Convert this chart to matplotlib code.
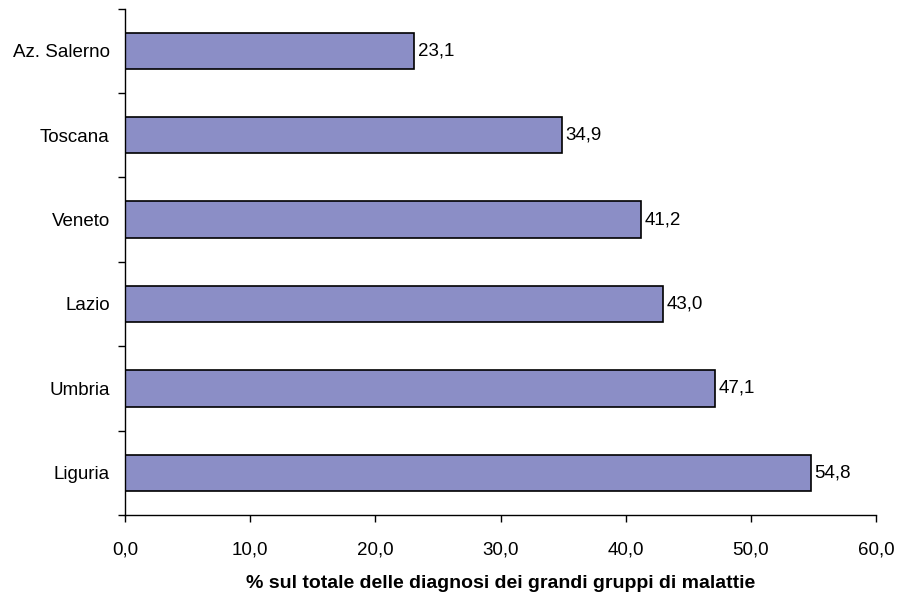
import matplotlib
matplotlib.use("Agg")
import matplotlib.pyplot as plt
import numpy as np

categories = ["Az. Salerno", "Toscana", "Veneto", "Lazio", "Umbria", "Liguria"]
values = [23.1, 34.9, 41.2, 43.0, 47.1, 54.8]
xticks = [0, 10, 20, 30, 40, 50, 60]
xlabel = "% sul totale delle diagnosi dei grandi gruppi di malattie"

plt.rcParams['font.family'] = ['Liberation Sans', 'DejaVu Sans']

fig = plt.figure(figsize=(9.02, 5.92), dpi=100)
ax = fig.add_axes([125/902, 1 - 515/592, (876-125)/902, (515-8.5)/592])

n = len(categories)
ypos = np.arange(n)[::-1]  # first category at top
ax.barh(ypos, values, height=0.43, color="#8B8EC6", edgecolor="black", linewidth=1.2)
for y, v in zip(ypos, values):
    ax.text(v + 0.3, y, f"{v:.1f}".replace(".", ","), va="center", ha="left", fontsize=13.5)

ax.set_xlim(0, 60)
ax.set_ylim(-0.5, n - 0.5)
ax.set_xticks(xticks)
ax.set_xticklabels([f"{t:.1f}".replace(".", ",") for t in xticks], fontsize=13.5)
ax.set_yticks(ypos)
ax.set_yticklabels(categories, fontsize=13.5)
ax.set_yticks(np.arange(-0.5, n, 1.0), minor=True)
ax.tick_params(axis='y', which='major', length=0, pad=11)
ax.tick_params(axis='y', which='minor', length=5, width=1)
ax.tick_params(axis='x', which='major', length=5, width=1, pad=14)
for s in ["top", "right"]:
    ax.spines[s].set_visible(False)
ax.spines["left"].set_linewidth(1)
ax.spines["bottom"].set_linewidth(1)
ax.set_xlabel(xlabel, fontsize=14, fontweight="bold", labelpad=12)

fig.savefig("out.png", dpi=100)
